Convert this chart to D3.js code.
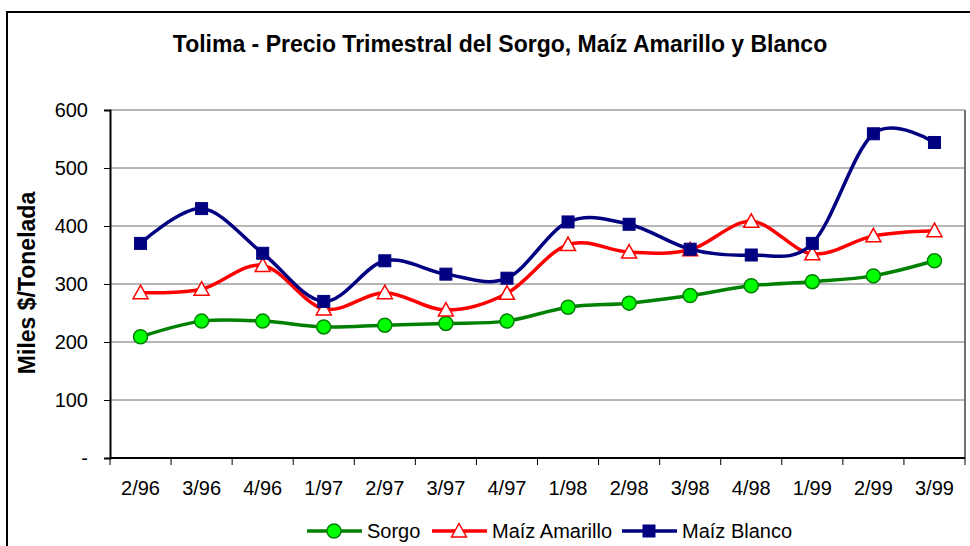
<!DOCTYPE html>
<html>
<head>
  <meta charset="utf-8">
  <script src="https://d3js.org/d3.v7.min.js"></script>
  <style>
    body { margin: 0; background: #fff; font-family: "Liberation Sans", Arial, sans-serif; }
    svg text { fill: #000; }
  </style>
</head>
<body>
  <div id="chart"></div>
  <script>
    // quarters and prices (miles $/tonelada)
    const quarters = ["2/96", "3/96", "4/96", "1/97", "2/97", "3/97", "4/97",
                      "1/98", "2/98", "3/98", "4/98", "1/99", "2/99", "3/99"];
    const sorgo = [209, 236, 236, 226, 229, 232, 236, 260, 267, 280, 297, 304, 314, 340];
    const maizAmarillo = [285, 291, 332, 257, 285, 255, 284, 368, 355, 359, 408, 352, 383, 392];
    const maizBlanco = [370, 430, 353, 270, 340, 317, 310, 407, 403, 360, 350, 370, 559, 544];
    const yTicks = [0, 100, 200, 300, 400, 500, 600];

    const series = [
      { name: "Sorgo", values: sorgo, color: "#008000", marker: "circle", fill: "#00ff00" },
      { name: "Maíz Amarillo", values: maizAmarillo, color: "#ff0000", marker: "triangle", fill: "#ffffff" },
      { name: "Maíz Blanco", values: maizBlanco, color: "#000080", marker: "square", fill: "#000080" }
    ];

    const W = 970, H = 546;
    const plot = { left: 110, right: 965, top: 110, bottom: 458 };

    const svg = d3.select("#chart").append("svg")
      .attr("width", W).attr("height", H);

    // outer chart border
    svg.append("rect")
      .attr("x", 7).attr("y", 12)
      .attr("width", W + 10).attr("height", H + 10)
      .attr("fill", "none").attr("stroke", "#000").attr("stroke-width", 2);

    svg.append("text")
      .attr("x", 500).attr("y", 52)
      .attr("text-anchor", "middle")
      .style("font-size", "23px").style("font-weight", "bold")
      .text("Tolima - Precio Trimestral del Sorgo, Maíz Amarillo y Blanco");

    const x = d3.scaleBand().domain(quarters).range([plot.left, plot.right]);
    const y = d3.scaleLinear().domain([0, 600]).range([plot.bottom, plot.top]);

    // gridlines
    svg.append("g").selectAll("line")
      .data(yTicks.filter(d => d > 0))
      .join("line")
      .attr("x1", plot.left).attr("x2", plot.right)
      .attr("y1", d => y(d)).attr("y2", d => y(d))
      .attr("stroke", "#6e6e6e").attr("stroke-width", 1);

    // right border of plot area
    svg.append("line")
      .attr("x1", plot.right).attr("x2", plot.right)
      .attr("y1", plot.top).attr("y2", plot.bottom)
      .attr("stroke", "#444").attr("stroke-width", 1.5);

    // y axis
    const yAxis = svg.append("g")
      .attr("transform", `translate(${plot.left},0)`)
      .call(d3.axisLeft(y).tickValues(yTicks).tickSize(6).tickPadding(16)
        .tickFormat(d => d === 0 ? "-" : d));
    yAxis.select(".domain").attr("stroke-width", 2);
    yAxis.selectAll("text").style("font-size", "20px").style("font-family", "Liberation Sans, Arial, sans-serif");

    // x axis with ticks between categories
    const xAxisG = svg.append("g").attr("transform", `translate(0,${plot.bottom})`);
    xAxisG.append("line")
      .attr("x1", plot.left).attr("x2", plot.right)
      .attr("stroke", "#000").attr("stroke-width", 2);
    const edges = quarters.map(q => x(q)).concat([plot.right]);
    xAxisG.selectAll("line.tick")
      .data(edges).join("line").attr("class", "tick")
      .attr("x1", d => d).attr("x2", d => d)
      .attr("y1", 0).attr("y2", 7)
      .attr("stroke", "#000").attr("stroke-width", 1);
    xAxisG.selectAll("text")
      .data(quarters).join("text")
      .attr("x", d => x(d) + x.bandwidth() / 2)
      .attr("y", 37)
      .attr("text-anchor", "middle")
      .style("font-size", "20px")
      .text(d => d);

    // y axis title
    svg.append("text")
      .attr("transform", "translate(35,283) rotate(-90)")
      .attr("text-anchor", "middle")
      .style("font-size", "23px").style("font-weight", "bold")
      .text("Miles $/Tonelada");

    const cx = d => x(d) + x.bandwidth() / 2;
    const line = d3.line()
      .x((d, i) => cx(quarters[i]))
      .y(d => y(d))
      .curve(d3.curveCatmullRom.alpha(0));

    function drawMarker(g, s, px, py) {
      if (s.marker === "circle") {
        g.append("circle").attr("cx", px).attr("cy", py).attr("r", 7)
          .attr("fill", s.fill).attr("stroke", s.color).attr("stroke-width", 1.5);
      } else if (s.marker === "square") {
        g.append("rect").attr("x", px - 6).attr("y", py - 6)
          .attr("width", 12).attr("height", 12)
          .attr("fill", s.fill).attr("stroke", s.color).attr("stroke-width", 1);
      } else {
        g.append("path")
          .attr("d", `M${px},${py - 7.5}L${px + 7.5},${py + 6}L${px - 7.5},${py + 6}Z`)
          .attr("fill", s.fill).attr("stroke", s.color).attr("stroke-width", 1.5);
      }
    }

    series.forEach(s => {
      const g = svg.append("g");
      g.append("path")
        .attr("d", line(s.values))
        .attr("fill", "none")
        .attr("stroke", s.color)
        .attr("stroke-width", 3.5);
      s.values.forEach((v, i) => drawMarker(g, s, cx(quarters[i]), y(v)));
    });

    // legend
    const legendItems = [
      { s: series[0], x: 307 },
      { s: series[1], x: 432 },
      { s: series[2], x: 622 }
    ];
    const ly = 531;
    legendItems.forEach(li => {
      const g = svg.append("g");
      g.append("line")
        .attr("x1", li.x).attr("x2", li.x + 55)
        .attr("y1", ly).attr("y2", ly)
        .attr("stroke", li.s.color).attr("stroke-width", 3.5);
      drawMarker(g, li.s, li.x + 27, ly);
      g.append("text")
        .attr("x", li.x + 60).attr("y", ly + 7)
        .style("font-size", "20px")
        .text(li.s.name);
    });
  </script>
</body>
</html>
